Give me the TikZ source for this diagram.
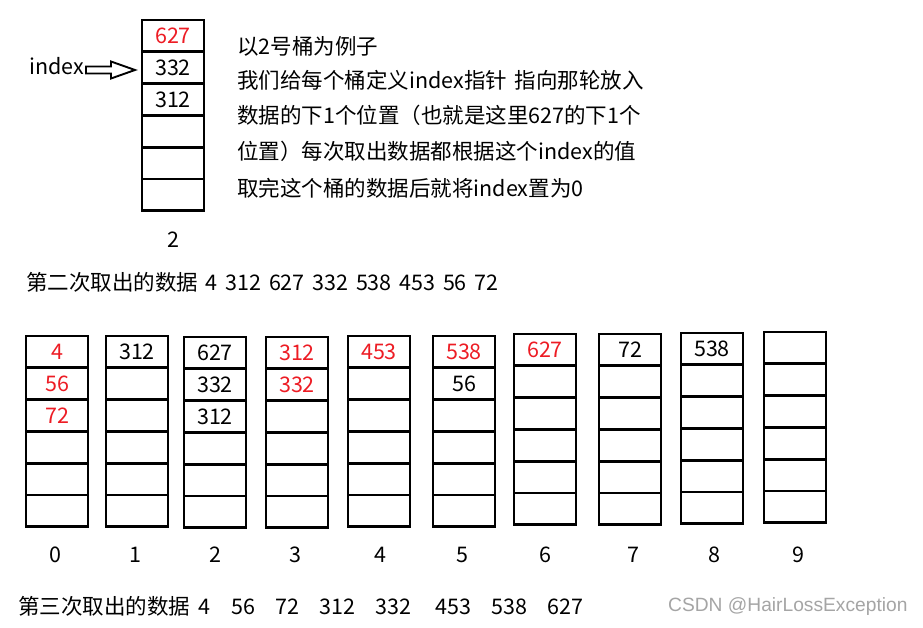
\documentclass[tikz,border=0pt]{standalone}
\usepackage{fontspec}
\setmainfont{Noto Sans CJK SC}[WordSpace=1.6]
\newfontfamily\wmfont{Liberation Sans}
\usetikzlibrary{calc}
\definecolor{redtxt}{RGB}{237,28,36}
\definecolor{wmgray}{RGB}{165,165,165}
\newcommand\dgfont{\fontsize{21.5}{24}\selectfont}
\newcommand\redv[1]{\textcolor{redtxt}{#1}}
\begin{document}
\begin{tikzpicture}[x=1pt,y=-1pt,
  cell/.style={draw, rectangle, line width=2.8pt, minimum width=62pt, minimum height=31.8pt, inner sep=0pt, outer sep=0pt, font=\dgfont},
  lbl/.style={font=\dgfont, inner sep=0pt},
  txtline/.style={font=\dgfont, anchor=west, inner sep=0pt}]
\useasboundingbox[fill=white] (0,0) rectangle (923,628);

% top bucket (number 2)
\node[cell, anchor=north west] (tb-1) at (142,20) {\redv{627}};
\node[cell, anchor=north] (tb-2) at (tb-1.south) {332};
\node[cell, anchor=north] (tb-3) at (tb-2.south) {312};
\node[cell, anchor=north] (tb-4) at (tb-3.south) {};
\node[cell, anchor=north] (tb-5) at (tb-4.south) {};
\node[cell, anchor=north] (tb-6) at (tb-5.south) {};
\node[lbl] (tbl) at (173,240) {2};

% index pointer
\node[font=\dgfont, anchor=base west, inner sep=0pt] (idx) at (29,75) {index};
\coordinate (atail) at (86,70);
\coordinate (atip) at (135,70);
\draw[line width=1.9pt, line join=miter]
  ($(atail)+(0,-3.5)$) -- ++(25,0) -- ++(0,-5) -- (atip) -- ++(-24,8.5) -- ++(0,-5) -- ($(atail)+(0,3.5)$) -- cycle;

% explanation text
\node[txtline] (t1) at (237,46) {以2号桶为例子};
\node[txtline] (t2) at (237,80) {我们给每个桶定义index指针 指向那轮放入};
\node[txtline] (t3) at (237,115) {数据的下1个位置（也就是这里627的下1个};
\node[txtline] (t4) at (237,151) {位置）每次取出数据都根据这个index的值};
\node[txtline] (t5) at (237,188) {取完这个桶的数据后就将index置为0};

\node[txtline] (second) at (26,282) {第二次取出的数据 4 312 627 332 538 453 56 72};

% bottom buckets
\foreach \nm/\x/\y/\a/\b/\c in {
  b0/26/336/\redv{4}/\redv{56}/\redv{72},
  b1/106/336/312/{}/{},
  b2/184/337/627/332/312,
  b3/266/337/\redv{312}/\redv{332}/{},
  b4/348/336/\redv{453}/{}/{},
  b5/433/336/\redv{538}/56/{},
  b6/514/334/\redv{627}/{}/{},
  b7/599/334/72/{}/{},
  b8/681/333/538/{}/{},
  b9/764/332/{}/{}/{}}{
  \node[cell, anchor=north west] (\nm-1) at (\x,\y) {\a};
  \node[cell, anchor=north] (\nm-2) at (\nm-1.south) {\b};
  \node[cell, anchor=north] (\nm-3) at (\nm-2.south) {\c};
  \node[cell, anchor=north] (\nm-4) at (\nm-3.south) {};
  \node[cell, anchor=north] (\nm-5) at (\nm-4.south) {};
  \node[cell, anchor=north] (\nm-6) at (\nm-5.south) {};
}
\foreach \i/\x in {0/55,1/135,2/215,3/295,4/380,5/462,6/545,7/633,8/714,9/798}{
  \node[lbl] (l\i) at (\x,555) {\i};
}

\node[txtline] (third) at (18,606) {第三次取出的数据\hspace{14pt}\makebox[0pt]{4}\hspace{39pt}\makebox[0pt]{56}\hspace{44pt}\makebox[0pt]{72}\hspace{50pt}\makebox[0pt]{312}\hspace{56pt}\makebox[0pt]{332}\hspace{60pt}\makebox[0pt]{453}\hspace{56pt}\makebox[0pt]{538}\hspace{56pt}\makebox[0pt]{627}\hspace{18pt}};

\node[anchor=west, inner sep=0pt, font=\wmfont\fontsize{19.2}{21}\selectfont, text=wmgray] (wm) at (668,607) {CSDN @HairLossException};
\end{tikzpicture}
\end{document}
